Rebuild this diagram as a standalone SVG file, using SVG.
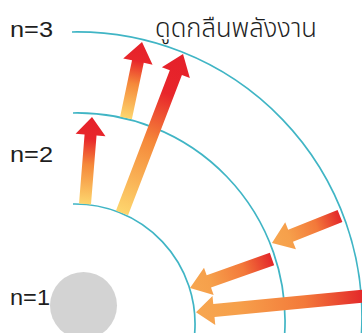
<svg xmlns="http://www.w3.org/2000/svg" width="362" height="333" viewBox="0 0 362 333">
  <style>
    .orbit { fill: none; stroke: #40b5c5; stroke-width: 1.7; }
    .lbl { font-family: "Liberation Sans", Arial, sans-serif; font-size: 22.5px; fill: #1e1e1e; }
    .thai { font-family: "Noto Sans Thai", "Noto Sans", "DejaVu Sans", sans-serif; font-size: 27px; font-weight: 300; fill: #1e1e1e; }
  </style>
  <defs>
    <linearGradient id="up" x1="0" y1="0" x2="1" y2="0">
      <stop offset="0" stop-color="#fdd66e"/>
      <stop offset="0.45" stop-color="#f5893a"/>
      <stop offset="0.75" stop-color="#e8262b"/>
      <stop offset="1" stop-color="#e5202a"/>
    </linearGradient>
    <linearGradient id="down" x1="0" y1="0" x2="1" y2="0">
      <stop offset="0" stop-color="#e3272a"/>
      <stop offset="0.35" stop-color="#f3793a"/>
      <stop offset="0.75" stop-color="#f6a04b"/>
      <stop offset="1" stop-color="#f7a650"/>
    </linearGradient>
  </defs>

  <rect width="362" height="333" fill="#ffffff"/>

  <g id="nucleus">
    <circle cx="83.5" cy="305.5" r="33.5" fill="#d3d3d3"/>
  </g>

  <g id="level-n1">
    <text class="lbl" x="10" y="305" textLength="40" lengthAdjust="spacingAndGlyphs">n=1</text>
  </g>
  <g id="level-n2">
    <path class="orbit" d="M73,204 A120,120 0 0 1 194.7,333"/>
    <text class="lbl" x="10" y="162" textLength="43" lengthAdjust="spacingAndGlyphs">n=2</text>
  </g>
  <g id="level-n3">
    <path class="orbit" d="M73,113 A208,208 0 0 1 284.7,333"/>
    <path class="orbit" d="M72,32 A285,285 0 0 1 361.5,333"/>
    <text class="lbl" x="10" y="37" textLength="43" lengthAdjust="spacingAndGlyphs">n=3</text>
  </g>
  <g id="title">
    <text class="thai" x="155" y="37" textLength="162" lengthAdjust="spacingAndGlyphs">ดูดกลืนพลังงาน</text>
  </g>

  <g id="connectors">
    <!-- absorption arrows (upward) -->
    <path fill="url(#up)" transform="translate(85,204) rotate(-85.4)" d="M0,-6 L69.3,-6 L69.3,-15 L87.3,0 L69.3,15 L69.3,6 L0,6 Z"/>
    <path fill="url(#up)" transform="translate(126,118) rotate(-78.1)" d="M0,-6 L57.7,-6 L57.7,-15 L77.7,0 L57.7,15 L57.7,6 L0,6 Z"/>
    <path fill="url(#up)" transform="translate(122,213) rotate(-69)" d="M0,-6.5 L150.3,-6.5 L150.3,-15 L170.3,0 L150.3,15 L150.3,6.5 L0,6.5 Z"/>
    <!-- emission arrows (inward) -->
    <path fill="url(#down)" transform="translate(340,216) rotate(158.3)" d="M0,-6.5 L53.2,-6.5 L53.2,-14.5 L73.2,0 L53.2,14.5 L53.2,6.5 L0,6.5 Z"/>
    <path fill="url(#down)" transform="translate(272,259) rotate(160.5)" d="M0,-6.5 L67,-6.5 L67,-14.5 L87,0 L67,14.5 L67,6.5 L0,6.5 Z"/>
    <path fill="url(#down)" transform="translate(364,296) rotate(174.5)" d="M0,-6.5 L150.8,-6.5 L150.8,-14.5 L168.8,0 L150.8,14.5 L150.8,6.5 L0,6.5 Z"/>
  </g>
</svg>
